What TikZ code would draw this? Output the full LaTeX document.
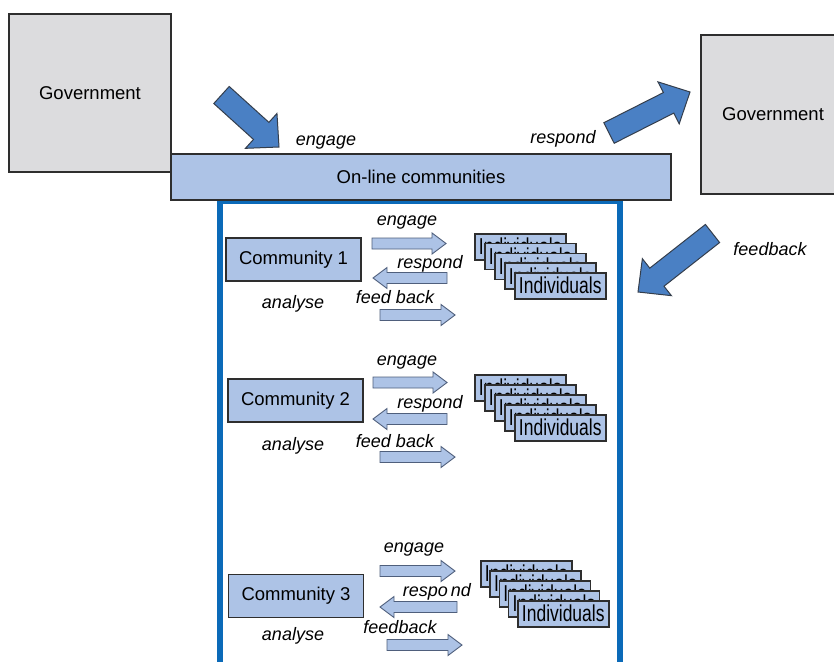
\documentclass[tikz,border=0pt]{standalone}
\usepackage{fontspec}
\setmainfont{Liberation Sans}
\newfontfamily\narrowsans[FakeStretch=0.76]{Liberation Sans}
\usetikzlibrary{calc}

\definecolor{boxgray}{HTML}{DCDCDE}
\definecolor{paleblue}{HTML}{ADC3E6}
\definecolor{midblue}{HTML}{4A80C4}
\definecolor{frameblue}{HTML}{0B6AB8}
\definecolor{edgegray}{HTML}{2E2E2E}
\definecolor{arrowedge}{HTML}{4F5F7C}

% block arrow: #1 style, #2 tail, #3 tip, #4 half body width, #5 half head width, #6 head length
\newcommand\flowarrow[6]{%
  \coordinate (hb) at ($(#3)!#6!(#2)$);
  \path[#1] ($(#2)!#4!90:(#3)$) -- ($(hb)!#4!90:(#3)$) -- ($(hb)!#5!90:(#3)$)
    -- (#3) -- ($(hb)!#5!-90:(#3)$) -- ($(hb)!#4!-90:(#3)$) -- ($(#2)!#4!-90:(#3)$) -- cycle;
}

\tikzset{
  govbox/.style={draw=edgegray, line width=1.3pt, fill=boxgray,
    font=\fontsize{18.5}{22}\selectfont},
  barbox/.style={draw=edgegray, line width=1.3pt, fill=paleblue,
    minimum width=500pt, minimum height=46pt, font=\fontsize{18.5}{22}\selectfont},
  commbox/.style={draw=edgegray, line width=1.2pt, fill=paleblue,
    minimum width=135pt, minimum height=43pt, font=\fontsize{18.5}{22}\selectfont},
  indiv/.style={draw=edgegray, line width=1.5pt, fill=paleblue, inner sep=0pt,
    minimum width=91pt, minimum height=26pt, anchor=north west,
    font=\narrowsans\fontsize{23}{26}\selectfont},
  lbl/.style={inner sep=0pt, anchor=base, font=\fontsize{18}{22}\selectfont\itshape},
  bigarrow/.style={fill=midblue, draw=edgegray!80!midblue, line width=1pt, line join=miter},
  smallarrow/.style={fill=paleblue, draw=arrowedge, line width=0.9pt},
  frame/.style={draw=frameblue, line width=6pt}
}

\begin{document}
\begin{tikzpicture}[x=1pt, y=-1pt]
\useasboundingbox (0,0) rectangle (834,661);
\clip (0,0) rectangle (834,661);
\fill[white] (0,0) rectangle (834,661);

% community frame (drawn first, the bar overlaps its top edge)
\draw[frame] (220,201) rectangle (620,700);

% government boxes and the on-line communities bar
\node[govbox, minimum width=162pt, minimum height=158pt] (govL) at (90,93) {Government};
\node[govbox, minimum width=144pt, minimum height=159pt] (govR) at (773,114.5) {Government};
\node[barbox] (bar) at (421,177) {On-line communities};

% large arrows between government and the communities
\coordinate (engT) at (221.5,95);  \coordinate (engH) at (279,147);
\coordinate (resT) at (609,133);   \coordinate (resH) at (690,92);
\coordinate (fbT)  at (712.5,233.5); \coordinate (fbH) at (638,292);
\flowarrow{bigarrow}{engT}{engH}{11.5pt}{23.5pt}{24pt}
\flowarrow{bigarrow}{resT}{resH}{11.5pt}{23.5pt}{24pt}
\flowarrow{bigarrow}{fbT}{fbH}{11.5pt}{23.5pt}{24pt}
\node[lbl] (lEng) at (326,145) {engage};
\node[lbl] (lRes) at (563,143) {respond};
\node[lbl] (lFb)  at (770,255) {feedback};

% ---- community 1 ----
\node[commbox] (c1) at (293.5,259.5) {Community 1};
\node[lbl] (c1an) at (293,308) {analyse};
\node[lbl] (c1en) at (407,225) {engage};
\node[lbl] (c1re) at (430,268) {respond};
\node[lbl] (c1fb) at (395,303) {feed back};
\coordinate (c1eT) at (372,243.5); \coordinate (c1eH) at (446,243.5);
\coordinate (c1rT) at (447,278);   \coordinate (c1rH) at (373,278);
\coordinate (c1fT) at (380,315);   \coordinate (c1fH) at (455,315);
\flowarrow{smallarrow}{c1eT}{c1eH}{5.5pt}{10.5pt}{14pt}
\flowarrow{smallarrow}{c1rT}{c1rH}{5.5pt}{10.5pt}{14pt}
\flowarrow{smallarrow}{c1fT}{c1fH}{5.5pt}{10.5pt}{14pt}
\foreach \k in {1,...,5}
  \node[indiv] (c1i\k) at ({474+10*(\k-1)},{233+9.75*(\k-1)}) {Individuals};

% ---- community 2 ----
\node[commbox] (c2) at (295.5,400.5) {Community 2};
\node[lbl] (c2an) at (293,450) {analyse};
\node[lbl] (c2en) at (407,365) {engage};
\node[lbl] (c2re) at (430,408) {respond};
\node[lbl] (c2fb) at (395,447) {feed back};
\coordinate (c2eT) at (373,382.5); \coordinate (c2eH) at (447,382.5);
\coordinate (c2rT) at (447,419);   \coordinate (c2rH) at (373,419);
\coordinate (c2fT) at (380,457);   \coordinate (c2fH) at (455,457);
\flowarrow{smallarrow}{c2eT}{c2eH}{5.5pt}{10.5pt}{14pt}
\flowarrow{smallarrow}{c2rT}{c2rH}{5.5pt}{10.5pt}{14pt}
\flowarrow{smallarrow}{c2fT}{c2fH}{5.5pt}{10.5pt}{14pt}
\foreach \k in {1,...,5}
  \node[indiv] (c2i\k) at ({474+10*(\k-1)},{374+10*(\k-1)}) {Individuals};

% ---- community 3 ----
\node[commbox] (c3) at (296,596) {Community 3};
\node[lbl] (c3an) at (293,640) {analyse};
\node[lbl] (c3en) at (414,552) {engage};
\node[lbl] (c3re) at (437,596) {respo\hspace{3pt}nd};
\node[lbl] (c3fb) at (400,633) {feedback};
\coordinate (c3eT) at (380,571);   \coordinate (c3eH) at (455,571);
\coordinate (c3rT) at (457,607);   \coordinate (c3rH) at (380,607);
\coordinate (c3fT) at (387,645);   \coordinate (c3fH) at (462,645);
\flowarrow{smallarrow}{c3eT}{c3eH}{5.5pt}{10.5pt}{14pt}
\flowarrow{smallarrow}{c3rT}{c3rH}{5.5pt}{10.5pt}{14pt}
\flowarrow{smallarrow}{c3fT}{c3fH}{5.5pt}{10.5pt}{14pt}
\foreach \k in {1,...,5}
  \node[indiv] (c3i\k) at ({480+9.25*(\k-1)},{560+10*(\k-1)}) {Individuals};
\end{tikzpicture}
\end{document}
